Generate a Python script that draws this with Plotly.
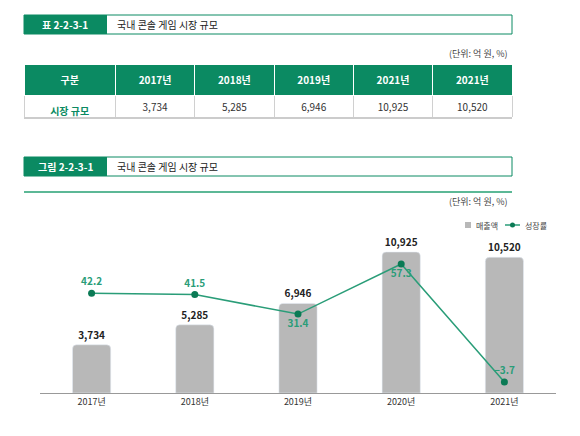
import plotly.graph_objects as go

years_tbl = ["2017년", "2018년", "2019년", "2021년", "2021년"]
years = ["2017년", "2018년", "2019년", "2020년", "2021년"]
sales = [3734, 5285, 6946, 10925, 10520]
growth = [42.2, 41.5, 31.4, 57.3, -3.7]
growth_pos = ["top center", "top center", "bottom center", "bottom center", "top center"]

OFF = 8  # browser body margin
W, H = 580 - OFF, 436 - OFF
G = "#0b8a62"
F = "Noto Sans CJK KR"
def py(p): return 1 - (p - OFF) / H
def px(p): return (p - OFF) / W

fig = go.Figure()

fig.add_trace(go.Table(
    domain=dict(x=[px(24), px(512)], y=[py(118), py(64)]),
    columnwidth=[91, 79, 79, 79, 79, 79],
    header=dict(values=["<b>구분</b>"] + [f"<b>{y}</b>" for y in years_tbl], fill_color=G,
                line=dict(color="white", width=1),
                font=dict(color="white", size=10, family=F), height=18, align="center"),
    cells=dict(values=[["<b>시장 규모</b>", "<b>성장률</b>"]] + [[f"{s:,}", f"{g}".replace("-", "−")] for s, g in zip(sales, growth)],
               fill_color="white", line=dict(color="#d0d0d0", width=1),
               font=dict(color=[[G, G]] + [["#333"] * 2] * 5, size=10, family=F), height=16, align="center"),
))

fig.add_trace(go.Bar(x=years, y=sales, name="매출액", marker=dict(color="#b8b8b8", cornerradius=4),
                     width=0.37, text=[f"{s:,}" for s in sales], textposition="outside",
                     textfont=dict(size=10, color="#222", family=F, weight="bold"), cliponaxis=False,
                     showlegend=False))
fig.add_trace(go.Scatter(x=years, y=growth, yaxis="y2", mode="lines+markers+text", name="성장률",
                         line=dict(color="#2a9d78", width=1.5), marker=dict(color="#0b7a55", size=7),
                         text=[str(g).replace("-", "−") for g in growth], textposition=growth_pos,
                         textfont=dict(size=10, color="#2a9d78", family=F, weight="bold"), cliponaxis=False,
                         showlegend=False))

shapes = []
anns = []
for top, label in [(15, "표 2-2-3-1"), (157, "그림 2-2-3-1")]:
    shapes.append(dict(type="rect", xref="paper", yref="paper", x0=px(24), x1=px(512), y0=py(top + 19), y1=py(top),
                       line=dict(color=G, width=1), fillcolor="white"))
    shapes.append(dict(type="rect", xref="paper", yref="paper", x0=px(24), x1=px(107), y0=py(top + 19), y1=py(top),
                       line=dict(width=0), fillcolor=G))
    anns.append(dict(text=f"<b>{label}</b>", x=px(65), y=py(top + 9.5), xref="paper", yref="paper", showarrow=False,
                     xanchor="center", yanchor="middle", font=dict(color="white", size=10, family=F)))
    anns.append(dict(text="국내 콘솔 게임 시장 규모", x=px(115), y=py(top + 9.5), xref="paper", yref="paper",
                     xanchor="left", yanchor="middle", showarrow=False, font=dict(color="#222", size=10, family=F)))
for yy in [54, 201]:
    anns.append(dict(text="(단위: 억 원, %)", x=px(510), y=py(yy), xref="paper", yref="paper", xanchor="right",
                     yanchor="middle", showarrow=False, font=dict(color="#444", size=9, family=F)))
shapes.append(dict(type="line", xref="paper", yref="paper", x0=px(24), x1=px(512), y0=py(192), y1=py(192),
                   line=dict(color="#5cb896", width=2)))
shapes.append(dict(type="line", xref="paper", yref="paper", x0=px(24), x1=px(512), y0=py(118), y1=py(118),
                   line=dict(color="#999", width=1)))
# legend
shapes.append(dict(type="rect", xref="paper", yref="paper", x0=px(465), x1=px(471), y0=py(228), y1=py(222),
                   fillcolor="#b8b8b8", line=dict(width=0)))
shapes.append(dict(type="line", xref="paper", yref="paper", x0=px(505), x1=px(520), y0=py(225), y1=py(225),
                   line=dict(color="#2a9d78", width=1.5)))
shapes.append(dict(type="circle", xref="paper", yref="paper", x0=px(510), x1=px(515), y0=py(227.5), y1=py(222.5),
                   fillcolor="#0b7a55", line=dict(width=0)))
anns.append(dict(text="매출액", x=px(474), y=py(225), xref="paper", yref="paper", xanchor="left", yanchor="middle",
                 showarrow=False, font=dict(color="#444", size=8, family=F)))
anns.append(dict(text="성장률", x=px(523), y=py(225), xref="paper", yref="paper", xanchor="left", yanchor="middle",
                 showarrow=False, font=dict(color="#444", size=8, family=F)))

fig.update_layout(
    width=W, height=H, margin=dict(l=0, r=0, t=0, b=0), paper_bgcolor="white", plot_bgcolor="white",
    font=dict(family=F),
    xaxis=dict(domain=[px(40), px(556)], showgrid=False, showline=True, linecolor="#999", ticks="",
               tickfont=dict(size=9, color="#333", family=F)),
    yaxis=dict(domain=[py(393), py(240)], range=[0, 11860], visible=False),
    yaxis2=dict(domain=[py(393), py(240)], range=[-9.4, 69.7], overlaying="y", visible=False),
    shapes=shapes, annotations=anns,
)
fig.write_html("out.html")
